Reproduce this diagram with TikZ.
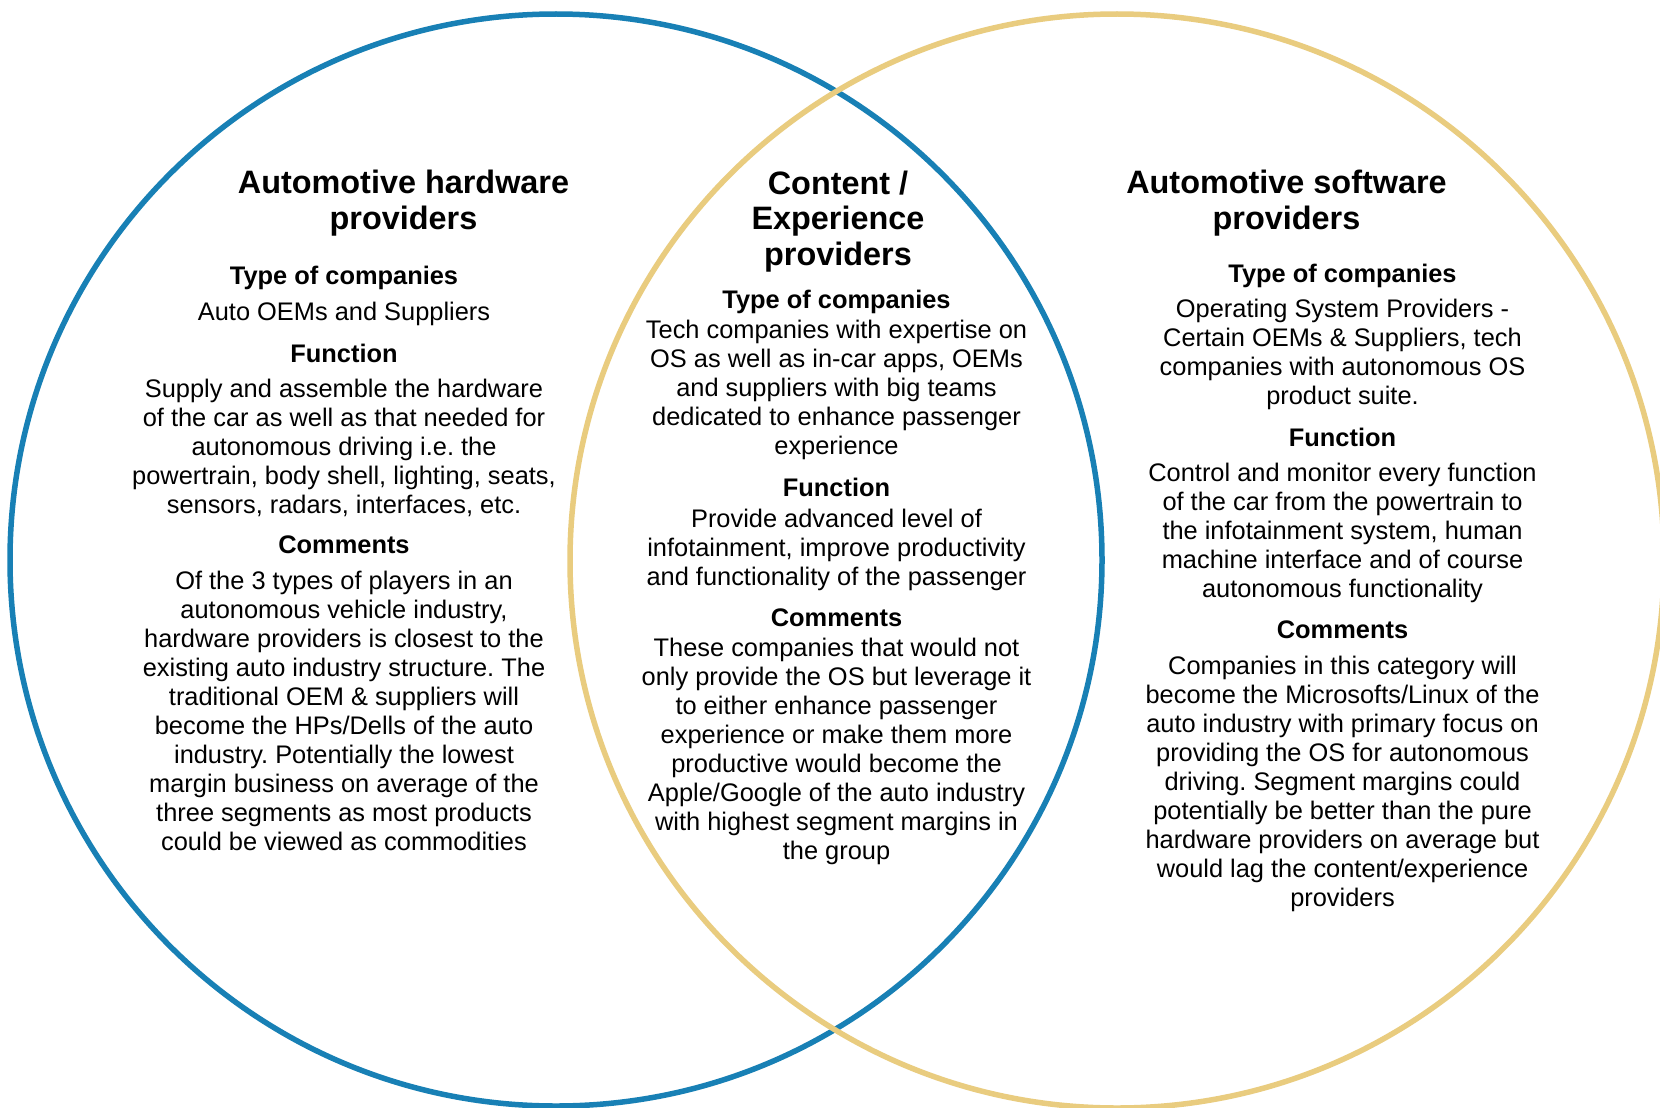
\documentclass[tikz,border=0pt]{standalone}
\usepackage{fontspec}
\setmainfont{Liberation Sans}
\frenchspacing
\definecolor{hwblue}{RGB}{24,128,181}
\definecolor{swgold}{RGB}{233,204,127}
\begin{document}
\begin{tikzpicture}[x=1pt,y=-1pt,
  ring/.style={line width=5.5pt},
  ttl/.style={align=center,inner sep=0pt,font=\fontsize{32.4}{35.5}\selectfont\bfseries\frenchspacing},
  hd/.style={align=center,inner sep=0pt,font=\fontsize{25.4}{29}\selectfont\bfseries\frenchspacing},
  bd/.style={align=center,inner sep=0pt,font=\fontsize{25.4}{29}\selectfont\frenchspacing}]
\useasboundingbox (0,0) rectangle (1660,1108);
\fill[white] (0,0) rectangle (1660,1108);
\begin{scope}
\clip (0,0) rectangle (1660,1108);
\draw[ring,hwblue] (556,560) circle[radius=546];
\draw[ring,swgold] (1117,561) circle[radius=547];
\end{scope}
% left
\node[ttl] (lt) at (403.5,203) {Automotive hardware\\providers};
\node[hd] (lh1) at (344,277.5) {Type of companies};
\node[bd] (lb1) at (344,314) {Auto OEMs and Suppliers};
\node[hd] (lh2) at (344,353) {Function};
\node[bd] (lb2) at (344,447.5) {Supply and assemble the hardware\\of the car as well as that needed for\\autonomous driving i.e. the\\powertrain, body shell, lighting, seats,\\sensors, radars, interfaces, etc.};
\node[hd] (lh3) at (344,544.5) {Comments};
\node[bd] (lb3) at (344,710.5) {Of the 3 types of players in an\\autonomous vehicle industry,\\hardware providers is closest to the\\existing auto industry structure. The\\traditional OEM \& suppliers will\\become the HPs/Dells of the auto\\industry. Potentially the lowest\\margin business on average of the\\three segments as most products\\could be viewed as commodities};
% middle
\node[ttl] (mt) at (838,221.5) {Content /\\Experience\\providers};
\node[hd] (mh1) at (836.5,302) {Type of companies};
\node[bd] (mb1) at (836.5,390) {Tech companies with expertise on\\OS as well as in-car apps, OEMs\\and suppliers with big teams\\dedicated to enhance passenger\\experience};
\node[hd] (mh2) at (836.5,487.5) {Function};
\node[bd] (mb2) at (836.5,549.5) {Provide advanced level of\\infotainment, improve productivity\\and functionality of the passenger};
\node[hd] (mh3) at (836.5,617.5) {Comments};
\node[bd] (mb3) at (836.5,751) {These companies that would not\\only provide the OS but leverage it\\to either enhance passenger\\experience or make them more\\productive would become the\\Apple/Google of the auto industry\\with highest segment margins in\\the group};
% right
\node[ttl] (rt) at (1286.5,203) {Automotive software\\providers};
\node[hd] (rh1) at (1342.5,276) {Type of companies};
\node[bd] (rb1) at (1342.5,354.7) {Operating System Providers -\\Certain OEMs \& Suppliers, tech\\companies with autonomous OS\\product suite.};
\node[hd] (rh2) at (1342.5,437) {Function};
\node[bd] (rb2) at (1342.5,532.5) {Control and monitor every function\\of the car from the powertrain to\\the infotainment system, human\\machine interface and of course\\autonomous functionality};
\node[hd] (rh3) at (1342.5,629.5) {Comments};
\node[bd] (rb3) at (1342.5,783.5) {Companies in this category will\\become the Microsofts/Linux of the\\auto industry with primary focus on\\providing the OS for autonomous\\driving. Segment margins could\\potentially be better than the pure\\hardware providers on average but\\would lag the content/experience\\providers};
\end{tikzpicture}
\end{document}
